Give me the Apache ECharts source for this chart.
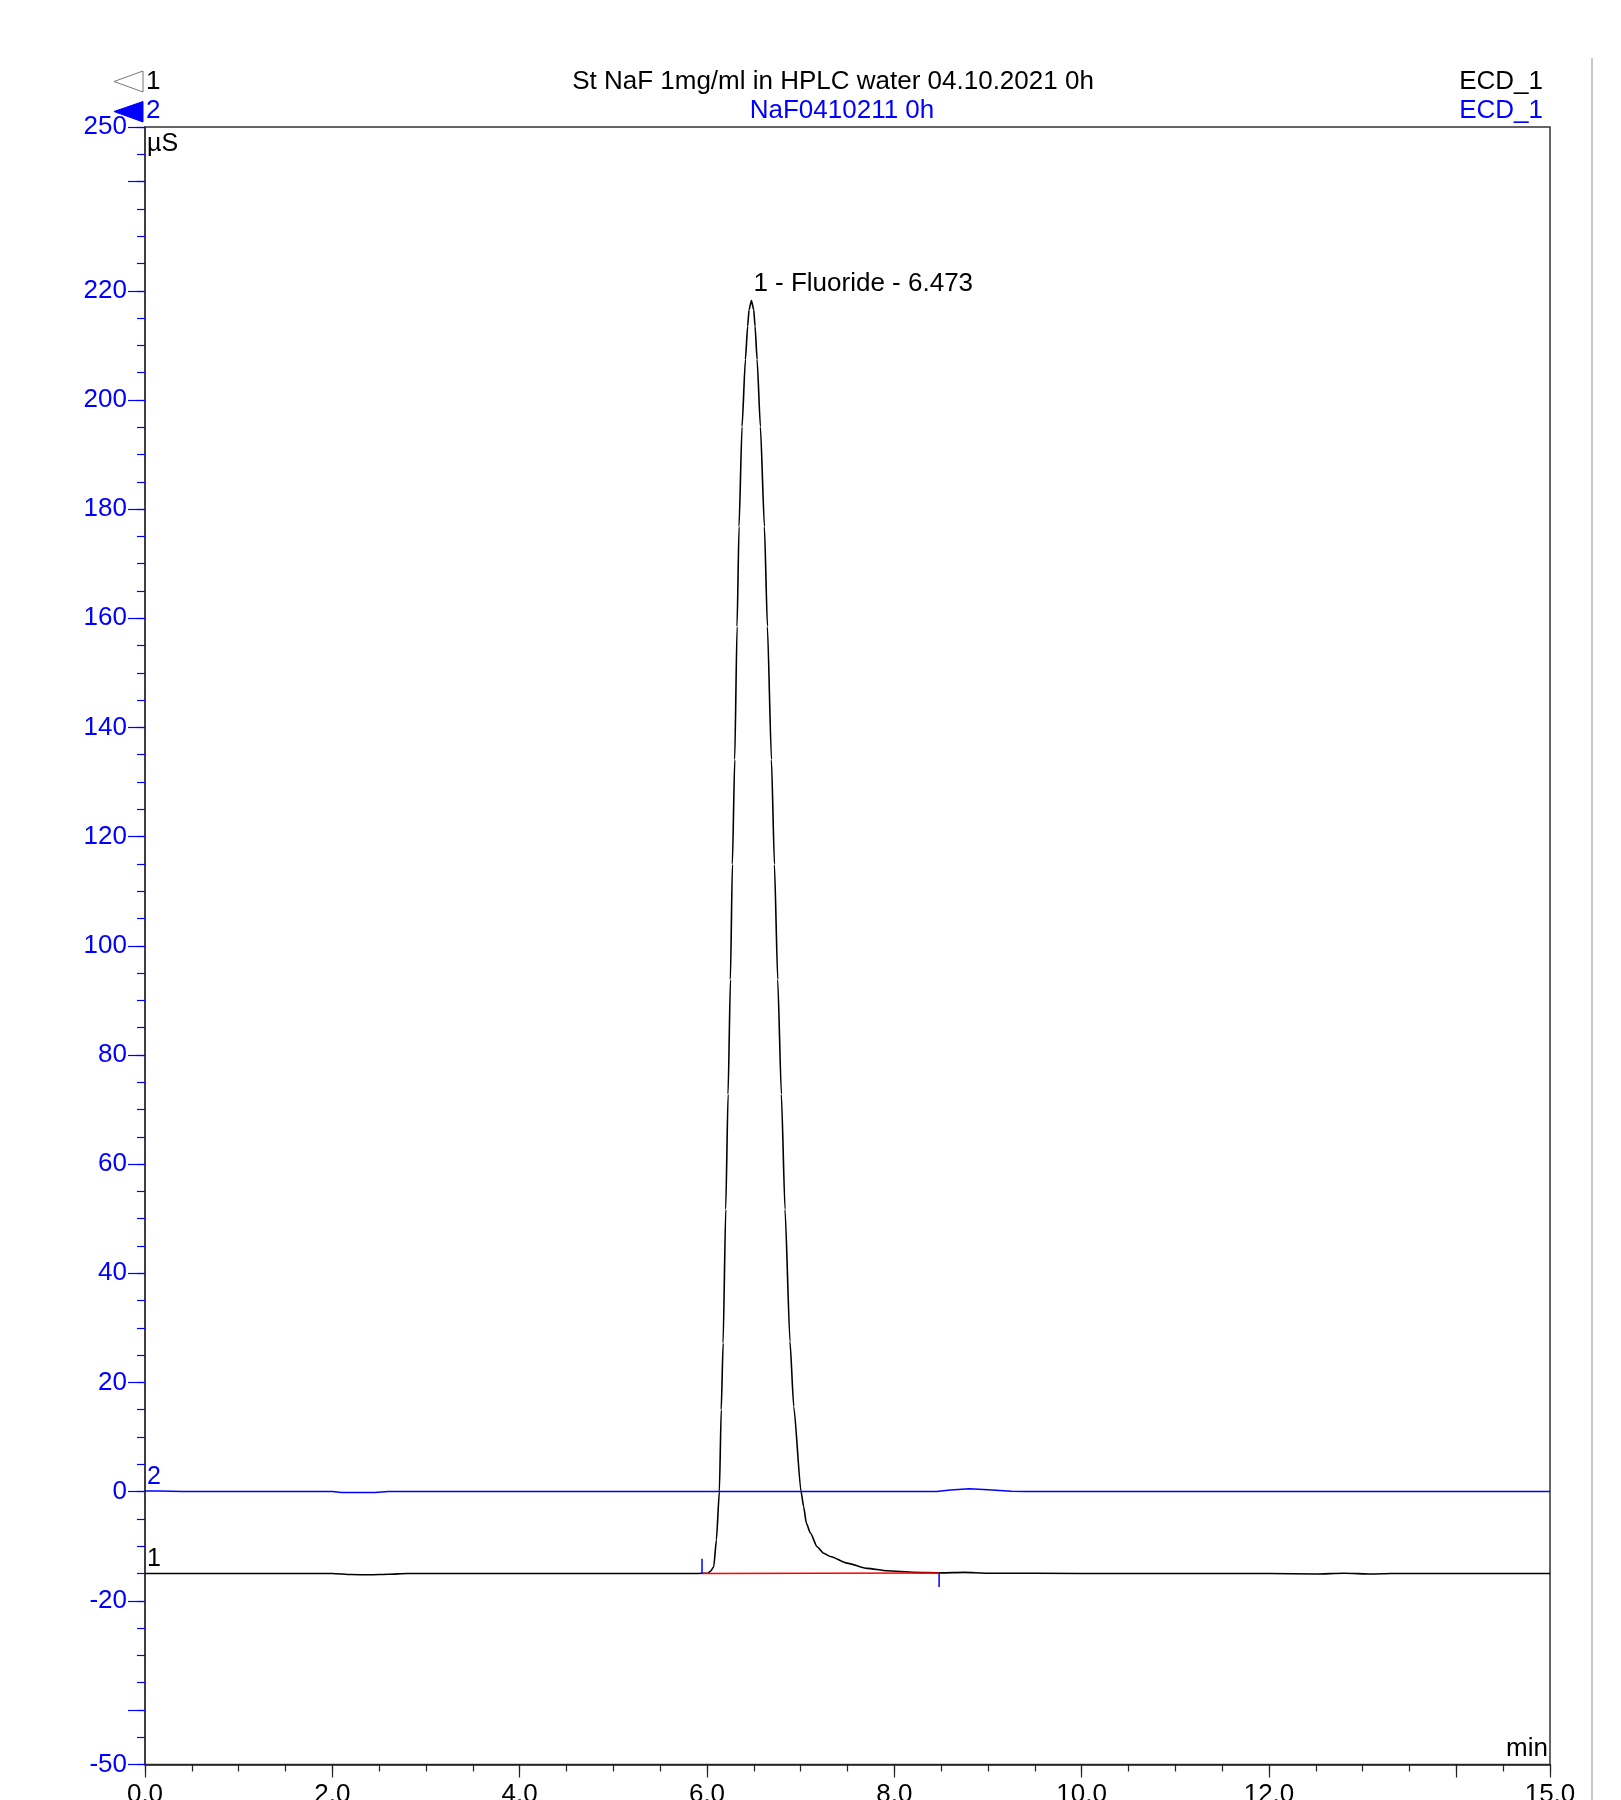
<!DOCTYPE html>
<html>
<head>
<meta charset="utf-8">
<script src="https://cdn.jsdelivr.net/npm/echarts@6/dist/echarts.min.js"></script>
<style>
html,body{margin:0;padding:0;background:#fff;}
#chart{width:1621px;height:1800px;}
</style>
</head>
<body>
<div id="chart"></div>
<script>
// ---- data ----
var trace1Time = [0, 1.0, 2.0, 2.2, 2.4, 2.6, 2.8, 4.0, 5.0, 5.9, 6.01, 6.036, 6.072, 6.10, 6.132, 6.152, 6.172, 6.200, 6.225, 6.250, 6.271, 6.296, 6.321, 6.342, 6.374, 6.410, 6.434, 6.449, 6.474, 6.499, 6.513, 6.535, 6.570, 6.613, 6.645, 6.688, 6.720, 6.755, 6.794, 6.833, 6.886, 6.926, 7.004, 7.032, 7.061, 7.104, 7.175, 7.246, 7.317, 7.495, 7.709, 7.922, 8.207, 8.5, 8.74, 9.0, 10.0, 12.0, 12.5, 12.8, 13.1, 13.3, 15.0];
var trace1Value = [-15.0, -15.0, -15.0, -15.2, -15.25, -15.15, -15.0, -15.0, -15.0, -15.0, -14.95, -14.6, -13.8, -8.9, 0.0, 15.0, 27.2, 51.7, 72.8, 93.8, 114.9, 134.1, 158.5, 176.8, 195.1, 207.4, 213.5, 216.5, 218.2, 216.5, 213.5, 207.4, 195.1, 176.8, 158.5, 134.1, 114.9, 93.8, 72.8, 51.7, 27.5, 15.6, 0.0, -2.8, -5.8, -7.6, -10.1, -11.3, -11.9, -13.1, -14.06, -14.5, -14.8, -14.9, -14.8, -14.95, -15.0, -15.0, -15.1, -14.95, -15.1, -15.0, -15.0];

var trace2Time = [0, 0.15, 0.4, 2.0, 2.1, 2.45, 2.6, 8.45, 8.6, 8.8, 9.0, 9.25, 9.4, 15.0];
var trace2Value = [0.1, 0.1, 0, 0, -0.15, -0.15, 0, 0, 0.3, 0.5, 0.35, 0.05, 0, 0];

var baselineTime = [5.947, 8.478];
var baselineValue = [-15.0, -14.9];

var peakStartMark = [[5.947, -12.3], [5.947, -15.0]];
var peakEndMark = [[8.478, -15.0], [8.478, -17.5]];

var peakName = '1 - Fluoride - 6.473';
var peakApex = [6.474, 218.2];

var yMajorTicks = [-50, -40, -20, 0, 20, 40, 60, 80, 100, 120, 140, 160, 180, 200, 220, 240, 250];
var yLabels = [-50, -20, 0, 20, 40, 60, 80, 100, 120, 140, 160, 180, 200, 220, 250];
var xMajorTicks = [0, 2, 4, 6, 8, 10, 12, 14, 15];
var xLabels = [0, 2, 4, 6, 8, 10, 12, 15];

var titleText = 'St NaF 1mg/ml in HPLC water 04.10.2021 0h';
var subTitleText = 'NaF0410211 0h';
var channelText = 'ECD_1';

function zip(a, b) { return a.map(function (v, i) { return [v, b[i]]; }); }

var FONT = "'Liberation Sans', Arial, sans-serif";
var BLUE = '#0000ff';
var FS = 26;

var chart = echarts.init(document.getElementById('chart'), null, {renderer: 'canvas'});

var option = {
  animation: false,
  backgroundColor: '#ffffff',
  textStyle: {fontFamily: FONT},
  grid: {left: 145, right: 71, top: 127, bottom: 35.5, containLabel: false, outerBoundsMode: 'none',
    show: true, borderColor: '#333', borderWidth: 1.5, backgroundColor: 'transparent'},
  xAxis: [
    {
      type: 'value', min: 0, max: 15, position: 'bottom',
      axisLine: {show: true, onZero: false, lineStyle: {color: '#222', width: 1.5}},
      axisTick: {show: true, length: 13, customValues: xMajorTicks, lineStyle: {color: '#222', width: 1.2}},
      axisLabel: {show: true, customValues: xLabels, margin: 17, color: '#000', fontSize: FS, fontFamily: FONT,
        formatter: function (v) { return v.toFixed(1); }},
      splitLine: {show: false}
    },
    {
      type: 'value', min: 0, max: 15, interval: 0.5, position: 'bottom', gridIndex: 0,
      axisLine: {show: false, onZero: false},
      axisTick: {show: true, length: 7, lineStyle: {color: '#222', width: 1.2}},
      axisLabel: {show: false},
      splitLine: {show: false}
    }
  ],
  yAxis: [
    {
      type: 'value', min: -50, max: 250, position: 'left',
      axisLine: {show: true, onZero: false, lineStyle: {color: '#333', width: 1.5}},
      axisTick: {show: true, length: 17, customValues: yMajorTicks, lineStyle: {color: BLUE, width: 1.2}},
      axisLabel: {show: true, customValues: yLabels, margin: 18, color: BLUE, fontSize: FS, fontFamily: FONT},
      splitLine: {show: false}
    },
    {
      type: 'value', min: -50, max: 250, interval: 5, position: 'left', gridIndex: 0,
      axisLine: {show: false, onZero: false},
      axisTick: {show: true, length: 8, lineStyle: {color: BLUE, width: 1.2}},
      axisLabel: {show: false},
      splitLine: {show: false}
    }
  ],
  series: [
    {
      name: 'trace2', type: 'line', xAxisIndex: 0, yAxisIndex: 0,
      data: zip(trace2Time, trace2Value), showSymbol: false, symbol: 'none',
      lineStyle: {color: BLUE, width: 1.5}, z: 3
    },
    {
      name: 'trace1', type: 'line', xAxisIndex: 0, yAxisIndex: 0,
      data: zip(trace1Time, trace1Value), showSymbol: false, symbol: 'none',
      smooth: 0.2, smoothMonotone: 'x',
      lineStyle: {color: '#000', width: 1.6}, z: 4,
      markPoint: {
        symbol: 'circle', symbolSize: 0,
        label: {show: true, position: [2, -4], align: 'left', verticalAlign: 'bottom',
          color: '#000', fontSize: FS, fontFamily: FONT, formatter: peakName},
        data: [{coord: peakApex}]
      }
    },
    {
      name: 'baseline', type: 'line', data: zip(baselineTime, baselineValue), showSymbol: false, symbol: 'none',
      lineStyle: {color: '#ff0000', width: 1.5}, z: 5
    },
    {
      name: 'startMark', type: 'line', data: peakStartMark, showSymbol: false, symbol: 'none',
      lineStyle: {color: BLUE, width: 1.5}, z: 6
    },
    {
      name: 'endMark', type: 'line', data: peakEndMark, showSymbol: false, symbol: 'none',
      lineStyle: {color: BLUE, width: 1.5}, z: 6
    }
  ],
  graphic: [
    {type: 'text', x: 833, y: 82, style: {text: titleText, fill: '#000', font: FS + 'px ' + FONT, align: 'center', verticalAlign: 'middle'}},
    {type: 'text', x: 842, y: 111, style: {text: subTitleText, fill: BLUE, font: FS + 'px ' + FONT, align: 'center', verticalAlign: 'middle'}},
    {type: 'text', x: 1543, y: 82, style: {text: channelText, fill: '#000', font: FS + 'px ' + FONT, align: 'right', verticalAlign: 'middle'}},
    {type: 'text', x: 1543, y: 111, style: {text: channelText, fill: BLUE, font: FS + 'px ' + FONT, align: 'right', verticalAlign: 'middle'}},
    {type: 'polygon', shape: {points: [[114, 81.5], [143, 71], [143, 92]]}, style: {fill: '#fff', stroke: '#777', lineWidth: 1}},
    {type: 'text', x: 146, y: 82, style: {text: '1', fill: '#000', font: FS + 'px ' + FONT, align: 'left', verticalAlign: 'middle'}},
    {type: 'polygon', shape: {points: [[114, 111.5], [143, 101.5], [143, 122]]}, style: {fill: BLUE, stroke: BLUE, lineWidth: 1}},
    {type: 'text', x: 146, y: 111, style: {text: '2', fill: BLUE, font: FS + 'px ' + FONT, align: 'left', verticalAlign: 'middle'}},
    {type: 'text', x: 147, y: 144, style: {text: 'µS', fill: '#000', font: '25px ' + FONT, align: 'left', verticalAlign: 'middle'}},
    {type: 'text', x: 1548, y: 1749, style: {text: 'min', fill: '#000', font: FS + 'px ' + FONT, align: 'right', verticalAlign: 'middle'}},
    {type: 'text', x: 147, y: 1477, style: {text: '2', fill: BLUE, font: '25px ' + FONT, align: 'left', verticalAlign: 'middle'}},
    {type: 'text', x: 147, y: 1559, style: {text: '1', fill: '#000', font: '25px ' + FONT, align: 'left', verticalAlign: 'middle'}},
    {type: 'line', shape: {x1: 1592, y1: 58, x2: 1592, y2: 1800}, style: {stroke: '#b4b4b4', lineWidth: 1.5}}
  ]
};
chart.setOption(option);
</script>
</body>
</html>
